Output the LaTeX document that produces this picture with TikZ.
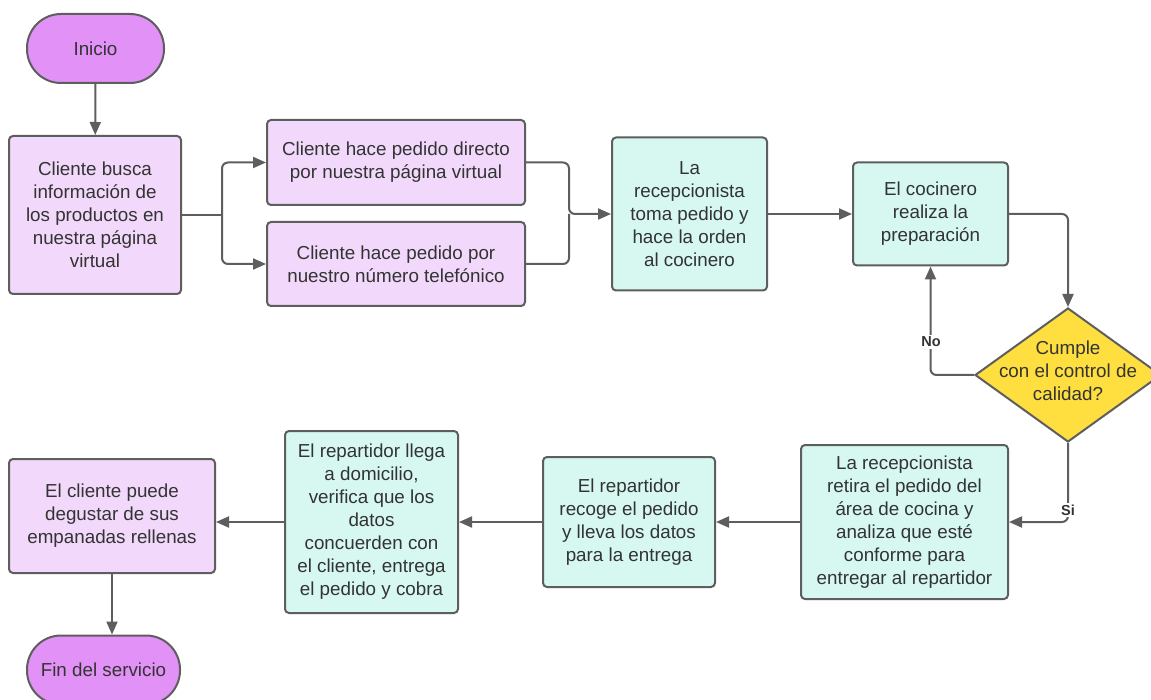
\documentclass[tikz,border=0pt]{standalone}
\usepackage{fontspec}
\setmainfont{Liberation Sans}
\usetikzlibrary{arrows.meta,shapes.geometric}
\definecolor{edgegray}{HTML}{5E5E5E}
\definecolor{txtgray}{HTML}{333333}
\definecolor{termfill}{HTML}{E291F7}
\definecolor{lilac}{HTML}{F2D9FB}
\definecolor{mint}{HTML}{D6F8F1}
\definecolor{gold}{HTML}{FFDF40}
\tikzset{
  base/.style={draw=edgegray, line width=2pt, align=center, text=txtgray,
    inner sep=0pt, font=\fontsize{18.8}{23}\selectfont},
  terminal/.style={base, fill=termfill, rounded corners=34pt},
  userbox/.style={base, fill=lilac, rounded corners=4pt},
  workbox/.style={base, fill=mint, rounded corners=4pt},
  decision/.style={base, fill=gold, diamond},
  conn/.style={draw=edgegray, line width=2pt, rounded corners=6pt,
    -{Triangle[length=13pt,width=11pt]}},
  plain/.style={draw=edgegray, line width=2pt, rounded corners=6pt},
  answer/.style={fill=white, text=txtgray, inner sep=2pt,
    font=\bfseries\fontsize{14.5}{16}\selectfont},
}
\begin{document}
\begin{tikzpicture}[x=1pt,y=-1pt]
\useasboundingbox (0,0) rectangle (1151,700);
\clip (0,0) rectangle (1151,700);
\fill[white] (0,0) rectangle (1151,700);

% nodes
\node[terminal, minimum width=137pt, minimum height=69pt] (inicio) at (95.5,48.5) {Inicio};
\node[userbox, minimum width=172pt, minimum height=158pt] (busca) at (95,215)
  {Cliente busca\\información de\\los productos en\\nuestra página\\virtual};
\node[userbox, minimum width=258pt, minimum height=85pt] (directo) at (396,162.5)
  {Cliente hace pedido directo\\por nuestra página virtual};
\node[userbox, minimum width=258pt, minimum height=84pt] (telefono) at (396,264)
  {Cliente hace pedido por\\nuestro número telefónico};
\node[workbox, minimum width=155pt, minimum height=153pt] (recep) at (689.5,214)
  {La\\recepcionista\\toma pedido y\\hace la orden\\al cocinero};
\node[workbox, minimum width=155pt, minimum height=103pt] (cocin) at (930.5,214)
  {El cocinero\\realiza la\\preparación};
\node[decision, minimum width=186pt, minimum height=134pt] (q) at (1068,375) {};
\node[text=txtgray, align=center, font=\fontsize{18.8}{23}\selectfont] (qtext) at (1068,371)
  {Cumple\\con el control de\\calidad?};
\node[workbox, minimum width=207pt, minimum height=154pt] (retira) at (904.5,522)
  {La recepcionista\\retira el pedido del\\área de cocina y\\analiza que esté\\conforme para\\entregar al repartidor};
\node[workbox, minimum width=172pt, minimum height=130pt] (recoge) at (629,522)
  {El repartidor\\recoge el pedido\\y lleva los datos\\para la entrega};
\node[workbox, minimum width=173pt, minimum height=182pt] (llega) at (371.5,522)
  {El repartidor llega\\a domicilio,\\verifica que los\\datos\\concuerden con\\el cliente, entrega\\el pedido y cobra};
\node[userbox, minimum width=206pt, minimum height=114pt] (puede) at (112,516)
  {El cliente puede\\degustar de sus\\empanadas rellenas};
\node[terminal, minimum width=153pt, minimum height=69pt] (fin) at (103.5,670) {Fin del servicio};

% branch and merge points
\coordinate (split) at (222,215);
\coordinate (merge) at (569,214);

% connectors
\draw[conn] (inicio) -- (busca);
\draw[plain] (busca.east) -- (split);
\draw[conn] (split) |- (directo.west);
\draw[conn] (split) |- (telefono.west);
\draw[plain] (telefono.east) -| (merge);
\draw[conn] (directo.east) -| (merge) -- (recep.west);
\draw[conn] (recep.east) -- (cocin.west);
\draw[conn] (cocin.east) -| (q.north);
\draw[conn] (q.west) -| (cocin.south);
\draw[conn] (q.south) |- (retira.east);
\draw[conn] (retira.west) -- (recoge.east);
\draw[conn] (recoge.west) -- (llega.east);
\draw[conn] (llega.west) -- (llega.west -| puede.east);
\draw[conn] (puede.south) -- (puede.south |- fin.north);

% answer labels
\node[answer] (no) at (931,342) {No};
\node[answer] (si) at (1068,510) {Si};
\end{tikzpicture}
\end{document}
